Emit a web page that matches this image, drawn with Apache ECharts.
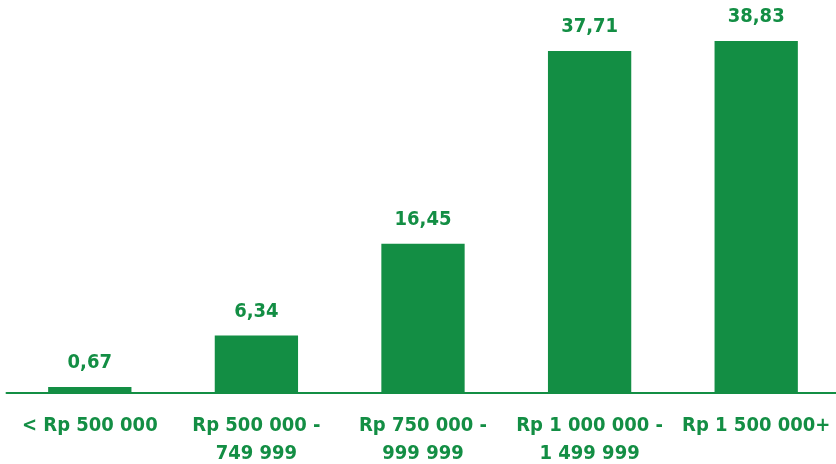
<!DOCTYPE html>
<html>
<head>
<meta charset="utf-8">
<script src="https://cdn.jsdelivr.net/npm/echarts@6/dist/echarts.min.js"></script>
<style>
  html, body { margin: 0; padding: 0; background: #fff; }
  #chart { width: 836px; height: 464px; }
</style>
</head>
<body>
<div id="chart"></div>
<script>
var categories = ['< Rp 500 000', 'Rp 500 000 -\n749 999', 'Rp 750 000 -\n999 999', 'Rp 1 000 000 -\n1 499 999', 'Rp 1 500 000+'];
var values = [0.67, 6.34, 16.45, 37.71, 38.83];
var green = '#138e44';
var font = "'DejaVu Sans Condensed', 'Liberation Sans', sans-serif";

var chart = echarts.init(document.getElementById('chart'));
chart.setOption({
    backgroundColor: '#fff',
    animation: false,
    grid: {
        left: 6.5,
        right: -3.5,
        top: 30.3,
        bottom: 71,
        containLabel: false,
        outerBoundsMode: 'none'
    },
    xAxis: {
        type: 'category',
        data: categories,
        axisLine: { lineStyle: { color: green, width: 2 } },
        axisTick: { show: false },
        axisLabel: {
            color: green,
            fontFamily: font,
            fontWeight: 'bold',
            fontSize: 20,
            lineHeight: 28,
            margin: 19,
            interval: 0
        }
    },
    yAxis: {
        type: 'value',
        min: 0,
        max: 40,
        show: false
    },
    series: [{
        type: 'bar',
        data: values,
        barWidth: '50%',
        itemStyle: { color: green },
        label: {
            show: true,
            position: 'top',
            distance: 14,
            color: green,
            fontFamily: font,
            fontWeight: 'bold',
            fontSize: 20,
            formatter: function (p) {
                return p.value.toFixed(2).replace('.', ',');
            }
        }
    }]
});
</script>
</body>
</html>
